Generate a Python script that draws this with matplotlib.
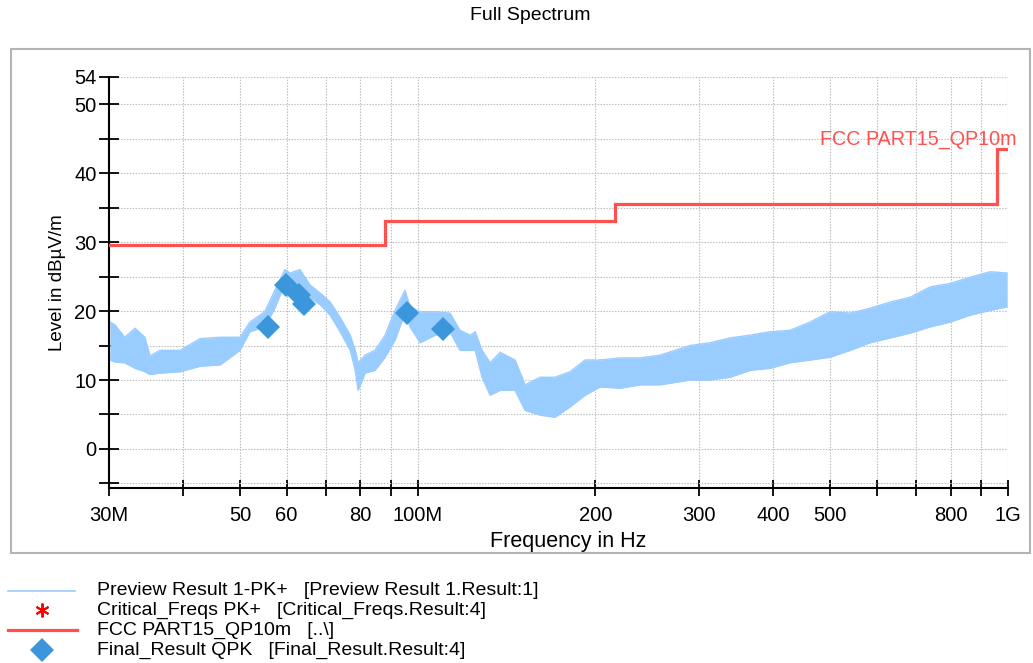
import matplotlib
matplotlib.use("Agg")
import matplotlib.pyplot as plt
from matplotlib.lines import Line2D
from matplotlib.patches import Rectangle
import numpy as np

plt.rcParams['font.family'] = ['Liberation Sans', 'DejaVu Sans']

# ---------------- data ----------------
# Preview trace (PK+), envelope: frequency (MHz), lower / upper level (dBuV/m)
trace_freq = [30.1, 30.7, 31.9, 33.2, 34.5, 35.2, 36.6, 39.6, 42.8, 46.3, 50.0, 52.0, 55.1,
              57.3, 59.6, 60.8, 63.2, 65.7, 68.4, 71.1, 73.9, 76.9, 78.4, 79.3, 81.5, 84.7,
              88.1, 91.6, 95.2, 97.1, 101.0, 107.1, 113.5, 118.0, 122.8, 125.2, 128.6, 132.7,
              138.0, 146.3, 152.1, 161.3, 171.0, 181.3, 192.3, 203.9, 220.4, 238.3, 257.6,
              289.6, 313.1, 338.5, 366.0, 395.8, 427.8, 462.6, 500.2, 540.9, 584.7, 632.2,
              683.5, 739.1, 799.1, 864.0, 934.1, 998.0]
trace_low = [12.9, 12.6, 12.5, 11.7, 11.2, 10.8, 11.0, 11.2, 12.0, 12.2, 14.3, 17.0, 17.7,
             20.4, 24.0, 23.5, 23.0, 22.0, 20.9, 19.4, 17.0, 14.3, 11.4, 8.5, 11.0, 11.4,
             13.3, 15.8, 19.7, 17.7, 15.4, 16.5, 17.0, 14.3, 14.3, 14.3, 10.4, 7.8,
             8.5, 8.5, 5.6, 4.9, 4.6, 6.1, 7.8, 9.0, 8.8, 9.3, 9.3,
             10.0, 10.0, 10.4, 11.4, 11.7, 12.5, 12.9, 13.3, 14.3, 15.4, 16.1,
             16.8, 17.7, 18.4, 19.4, 20.1, 20.6]
trace_high = [18.4, 18.0, 16.2, 17.5, 16.2, 13.5, 14.3, 14.3, 16.0, 16.2, 16.2, 18.4, 19.9,
              23.0, 26.0, 25.5, 26.0, 23.8, 22.6, 21.3, 19.1, 16.5, 14.3, 12.5, 13.6, 14.3,
              16.5, 20.1, 23.0, 20.6, 19.9, 19.9, 19.7, 17.2, 16.5, 17.0, 14.3, 12.5,
              14.0, 12.9, 9.3, 10.4, 10.4, 11.2, 12.9, 12.9, 13.2, 13.2, 13.6,
              15.0, 15.4, 16.1, 16.5, 17.0, 17.2, 18.4, 19.9, 19.7, 20.4, 21.3,
              22.0, 23.5, 24.0, 24.9, 25.7, 25.5]

# FCC Part 15 QP 10 m limit (step line)
limit_freq = [30, 88, 88, 216, 216, 960, 960, 1000]
limit_level = [29.5, 29.5, 33.0, 33.0, 35.5, 35.5, 43.5, 43.5]

# Final QPK results
final_freq = [55.8, 59.9, 63.0, 64.1, 96.0, 110.5]
final_level = [17.7, 23.8, 22.3, 21.0, 19.7, 17.4]

# Critical frequencies PK+ (hidden under the final markers)
crit_freq = [55.8, 59.9, 63.0, 64.1, 96.0, 110.5]
crit_level = [17.7, 23.8, 22.3, 21.0, 19.7, 17.4]

x_ticks = [30, 40, 50, 60, 70, 80, 90, 100, 200, 300, 400, 500, 600, 700, 800, 900, 1000]
x_labels = ['30M', '', '50', '60', '', '80', '', '100M', '200', '300', '400', '500', '', '', '800', '', '1G']
y_ticks = [-5, 0, 5, 10, 15, 20, 25, 30, 35, 40, 45, 50, 54]
y_labels = ['', '0', '', '10', '', '20', '', '30', '', '40', '', '50', '54']

legend_labels = ['Preview Result 1-PK+   [Preview Result 1.Result:1]',
                 'Critical_Freqs PK+   [Critical_Freqs.Result:4]',
                 'FCC PART15_QP10m   [..\\]',
                 'Final_Result QPK   [Final_Result.Result:4]']

# ---------------- style ----------------
C_TRACE = '#99CCFF'
C_LIMIT = '#FF5050'
C_FINAL = '#3C96DC'
C_CRIT = '#FF0000'
W, H = 1033, 663

fig = plt.figure(figsize=(W / 100, H / 100), dpi=100)
ax = fig.add_axes([109 / W, 1 - 488.3 / H, (1007.7 - 109) / W, (488.3 - 76.5) / H])

# outer frame
fig.patches.append(Rectangle((11 / W, 1 - 553 / H), (1030 - 11) / W, (553 - 49) / H,
                             transform=fig.transFigure, fill=False, edgecolor='#b4b4b4',
                             linewidth=1.5, zorder=0))

ax.set_xscale('log')
ax.set_xlim(30, 1000)
ax.set_ylim(-5.7, 54)

ax.fill_between(trace_freq, trace_low, trace_high, color=C_TRACE, linewidth=0, zorder=2)
ax.plot(trace_freq, trace_low, color=C_TRACE, linewidth=1, zorder=2)
ax.plot(trace_freq, trace_high, color=C_TRACE, linewidth=1, zorder=2)

ax.plot(limit_freq, limit_level, color=C_LIMIT, linewidth=2.3, zorder=3, solid_joinstyle='miter')
ax.plot(crit_freq, crit_level, linestyle='none', marker=(6, 2, 0), markersize=6,
        color=C_CRIT, zorder=3.5)
ax.plot(final_freq, final_level, linestyle='none', marker='D', markersize=12,
        color=C_FINAL, markeredgewidth=0, zorder=4)

ax.annotate('FCC PART15_QP10m', xy=(1000, 43.5), xycoords='data',
            xytext=(6, 6.5), textcoords='offset points', ha='right', va='center',
            color=C_LIMIT, fontsize=14.2, annotation_clip=False, zorder=5)

ax.set_xticks(x_ticks)
ax.set_xticklabels(x_labels)
ax.xaxis.set_minor_locator(matplotlib.ticker.NullLocator())
ax.set_yticks(y_ticks)
ax.set_yticklabels(y_labels)

ax.tick_params(axis='x', direction='inout', length=12, width=1.3, labelsize=14.5, pad=7)
ax.tick_params(axis='y', direction='inout', length=14, width=1.3, labelsize=14.5, pad=2)

for s in ['top', 'right']:
    ax.spines[s].set_visible(False)
for s in ['left', 'bottom']:
    ax.spines[s].set_linewidth(1.5)

ax.grid(True, which='major', color='#bdbdbd', linestyle=(0, (1.3, 1.3)), linewidth=0.8, zorder=0)
ax.set_axisbelow(True)

ax.set_xlabel('Frequency in Hz', fontsize=15.5, va='center')
ax.xaxis.set_label_coords((568 - 109) / 899, -(541 - 488.3) / 411.8)
ax.set_ylabel('Level in dBµV/m', fontsize=13.5, va='center')
ax.yaxis.set_label_coords((57 - 109) / 899, 0.5)

fig.text(530 / W, 1 - 16 / H, 'Full Spectrum', ha='center', va='center', fontsize=14)

# legend (drawn manually below the frame)
rows_y = [590.5, 610.0, 630.0, 650.0]
fy = [1 - y / H for y in rows_y]
fig.add_artist(Line2D([8 / W, 75 / W], [fy[0], fy[0]], color=C_TRACE, linewidth=1.2,
                      transform=fig.transFigure))
fig.add_artist(Line2D([42 / W], [fy[1]], marker=(6, 2, 0), markersize=10, markeredgewidth=1.4,
                      color=C_CRIT, linestyle='none', transform=fig.transFigure))
fig.add_artist(Line2D([8 / W, 77 / W], [fy[2], fy[2]], color=C_LIMIT, linewidth=2.3,
                      transform=fig.transFigure))
fig.add_artist(Line2D([42 / W], [fy[3]], marker='D', markersize=12.5, markeredgewidth=0,
                      color=C_FINAL, linestyle='none', transform=fig.transFigure))
for y, lab in zip(fy, legend_labels):
    fig.text(97 / W, y, lab, ha='left', va='center', fontsize=14)

fig.savefig('out.png', dpi=100)
